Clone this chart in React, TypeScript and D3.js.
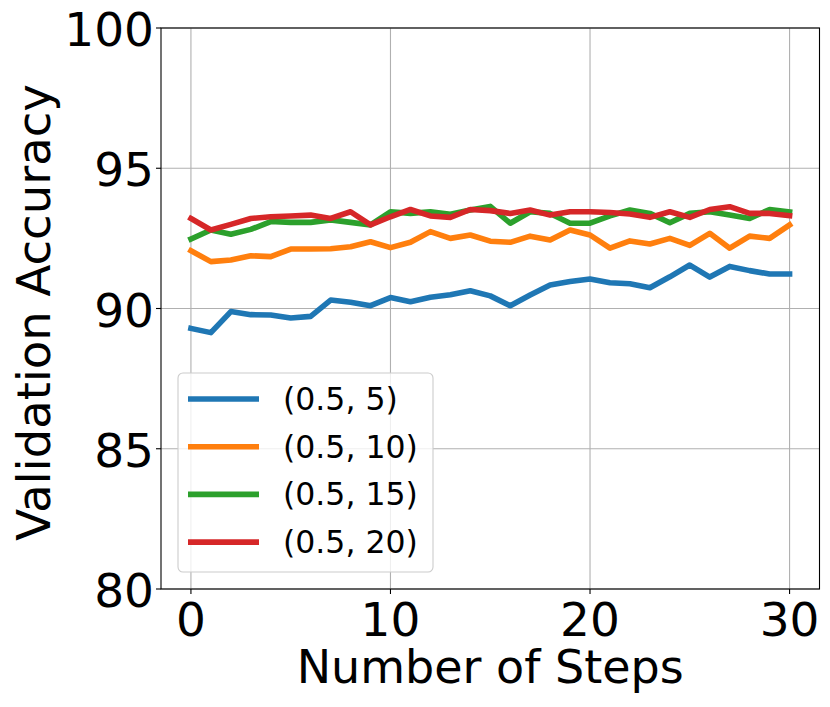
import React from "react";
import * as d3 from "d3";

const steps: number[] = d3.range(0, 31);

const seriesNames: string[] = ["(0.5, 5)", "(0.5, 10)", "(0.5, 15)", "(0.5, 20)"];
const seriesColors: string[] = ["#1f77b4", "#ff7f0e", "#2ca02c", "#d62728"];

const acc05_5: number[] = [
  89.29, 89.14, 89.89, 89.78, 89.77, 89.66, 89.72, 90.3, 90.22, 90.1, 90.39,
  90.24, 90.4, 90.49, 90.63, 90.45, 90.1, 90.48, 90.84, 90.96, 91.05, 90.92,
  90.88, 90.74, 91.13, 91.55, 91.12, 91.5, 91.35, 91.23, 91.23,
];
const acc05_10: number[] = [
  92.06, 91.67, 91.73, 91.88, 91.85, 92.12, 92.12, 92.13, 92.2, 92.38, 92.17,
  92.36, 92.74, 92.5, 92.62, 92.4, 92.36, 92.58, 92.44, 92.8, 92.62, 92.15,
  92.41, 92.3, 92.5, 92.25, 92.68, 92.15, 92.58, 92.5, 92.98,
];
const acc05_15: number[] = [
  92.48, 92.8, 92.65, 92.82, 93.1, 93.07, 93.07, 93.16, 93.07, 92.98, 93.45,
  93.39, 93.45, 93.36, 93.51, 93.64, 93.04, 93.45, 93.39, 93.04, 93.04, 93.3,
  93.51, 93.39, 93.06, 93.39, 93.45, 93.33, 93.21, 93.53, 93.44,
];
const acc05_20: number[] = [
  93.21, 92.8, 93.0, 93.21, 93.27, 93.3, 93.33, 93.21, 93.45, 92.98, 93.27,
  93.53, 93.3, 93.25, 93.53, 93.49, 93.39, 93.51, 93.33, 93.45, 93.45, 93.42,
  93.37, 93.25, 93.45, 93.25, 93.53, 93.63, 93.39, 93.39, 93.31,
];

const seriesValues: number[][] = [acc05_5, acc05_10, acc05_15, acc05_20];

const xTicks: number[] = [0, 10, 20, 30];
const yTicks: number[] = [80, 85, 90, 95, 100];

const xLabel = "Number of Steps";
const yLabel = "Validation Accuracy";

export default function App() {
  const W = 830;
  const H = 707;
  const left = 161;
  const right = 819.5;
  const top = 28;
  const bottom = 589;
  const font = "DejaVu Sans, Liberation Sans, sans-serif";

  const x = d3.scaleLinear().domain([-1.5, 31.5]).range([left, right]);
  const y = d3.scaleLinear().domain([80, 100]).range([bottom, top]);

  const line = d3
    .line<number>()
    .x((_, i) => x(steps[i]))
    .y((d) => y(d));

  const legX = 178;
  const legY = 373;
  const legW = 255;
  const legH = 199;
  const legRow0 = 399;
  const legStep = 47.7;

  return (
    <svg
      width={W}
      height={H}
      style={{ position: "absolute", left: 0, top: 0, background: "#fff" }}
      fontFamily={font}
    >
      <defs>
        <clipPath id="plotclip">
          <rect x={left} y={top} width={right - left} height={bottom - top} />
        </clipPath>
      </defs>
      <rect x={0} y={0} width={W} height={H} fill="#fff" />
      {/* grid */}
      {xTicks.map((t) => (
        <line
          key={"gx" + t}
          x1={x(t)}
          x2={x(t)}
          y1={top}
          y2={bottom}
          stroke="#b0b0b0"
          strokeWidth={1.1}
        />
      ))}
      {yTicks.map((t) => (
        <line
          key={"gy" + t}
          x1={left}
          x2={right}
          y1={y(t)}
          y2={y(t)}
          stroke="#b0b0b0"
          strokeWidth={1.1}
        />
      ))}
      {/* series */}
      <g clipPath="url(#plotclip)">
        {seriesValues.map((vals, i) => (
          <path
            key={"s" + i}
            d={line(vals) || ""}
            fill="none"
            stroke={seriesColors[i]}
            strokeWidth={5.6}
            strokeLinejoin="round"
            strokeLinecap="square"
          />
        ))}
      </g>
      {/* spines */}
      <rect
        x={left}
        y={top}
        width={right - left}
        height={bottom - top}
        fill="none"
        stroke="#000"
        strokeWidth={1.1}
      />
      {/* x ticks */}
      {xTicks.map((t) => (
        <g key={"xt" + t}>
          <line x1={x(t)} x2={x(t)} y1={bottom} y2={bottom + 5} stroke="#000" strokeWidth={1.1} />
          <text x={x(t)} y={636} fontSize={47} textAnchor="middle" fill="#000">
            {t}
          </text>
        </g>
      ))}
      {/* y ticks */}
      {yTicks.map((t) => (
        <g key={"yt" + t}>
          <line x1={left - 5} x2={left} y1={y(t)} y2={y(t)} stroke="#000" strokeWidth={1.1} />
          <text x={154} y={y(t) + 18} fontSize={47} textAnchor="end" fill="#000">
            {t}
          </text>
        </g>
      ))}
      {/* axis labels */}
      <text x={(left + right) / 2} y={683} fontSize={46} textAnchor="middle" fill="#000">
        {xLabel}
      </text>
      <text
        transform={`translate(50, ${(top + bottom) / 2 + 4}) rotate(-90)`}
        fontSize={46.5}
        textAnchor="middle"
        fill="#000"
      >
        {yLabel}
      </text>
      {/* legend */}
      <rect
        x={legX}
        y={legY}
        width={legW}
        height={legH}
        rx={5}
        ry={5}
        fill="#fff"
        fillOpacity={0.8}
        stroke="#cccccc"
        strokeWidth={1.1}
      />
      {seriesNames.map((name, i) => {
        const ly = legRow0 + i * legStep;
        return (
          <g key={"lg" + i}>
            <line x1={188} x2={259} y1={ly} y2={ly} stroke={seriesColors[i]} strokeWidth={5.6} />
            <text x={283} y={ly + 11} fontSize={31.5} fill="#000">
              {name}
            </text>
          </g>
        );
      })}
    </svg>
  );
}
